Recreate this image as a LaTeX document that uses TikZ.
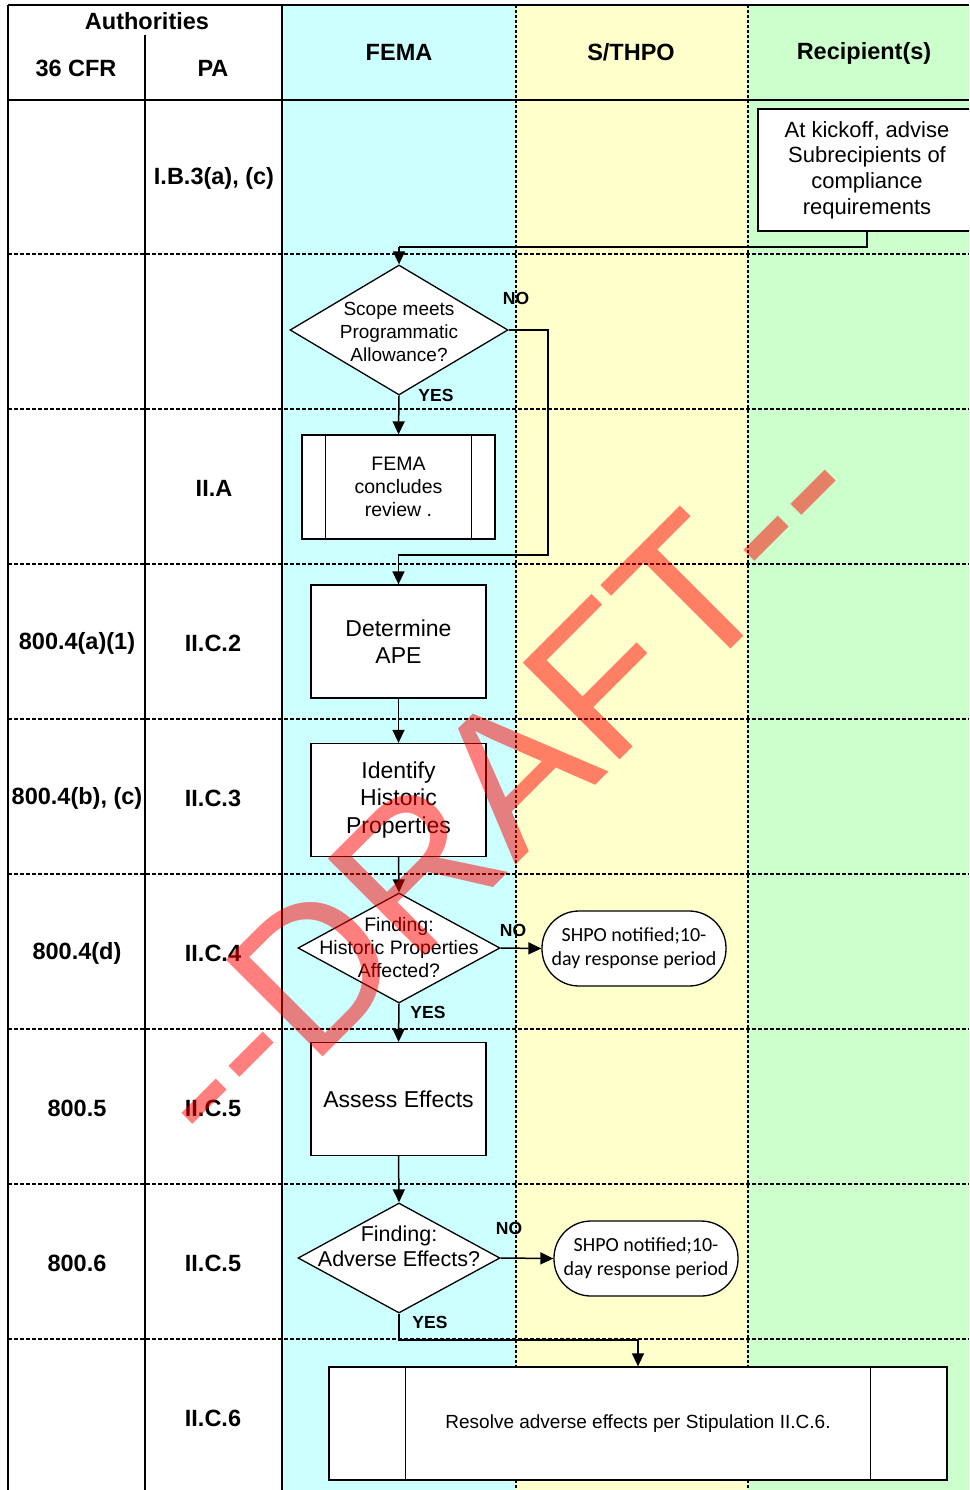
\documentclass[tikz,border=0pt]{standalone}
\usepackage{fontspec}
\setmainfont{Liberation Sans}
\newfontfamily\calibrifont{Carlito}
\usepackage{xcolor}
\usetikzlibrary{positioning,calc,shapes.geometric,arrows.meta}
\definecolor{lanecyan}{RGB}{204,255,255}
\definecolor{laneyellow}{RGB}{255,255,204}
\definecolor{lanegreen}{RGB}{204,255,204}

\begin{document}
\begin{tikzpicture}[x=1pt,y=-1pt,
					hdtext/.style={font=\bfseries\fontsize{23.5}{27}\selectfont, inner sep=0pt},
					yesno/.style={font=\bfseries\fontsize{17.5}{20}\selectfont, inner sep=0pt},
					flowbox/.style={draw, line width=1.3pt, fill=white, align=center,
						minimum width=175pt, minimum height=113pt, font=\fontsize{23}{27.5}\selectfont},
					flowdiam/.style={draw, shape=diamond, line width=1.3pt, fill=white, inner sep=0pt},
					diamtext/.style={align=center, inner sep=0pt, font=\fontsize{19}{23}\selectfont},
					flowterm/.style={draw, rectangle, rounded corners=37pt, line width=1.3pt, fill=white,
						minimum width=184pt, minimum height=75pt, align=center, inner sep=0pt,
						font=\calibrifont\fontsize{20}{24}\selectfont},
					flowedge/.style={line width=1.5pt, -{Triangle[length=13pt,width=12pt]}},
					flowline/.style={line width=1.5pt},
					rowsep/.style={line width=1.4pt, dash pattern=on 4pt off 2pt},
					lanesep/.style={line width=1.3pt, dash pattern=on 3pt off 2pt}
					]
					\useasboundingbox (0,0) rectangle (969,1490);
					\clip (0,0) rectangle (969,1490);
					
					% lanes
					\fill[lanecyan] (282,5) rectangle (516,1490);
					\fill[laneyellow] (516,5) rectangle (748,1490);
					\fill[lanegreen] (748,5) rectangle (969,1490);
					
					% row separators
					\draw[rowsep] (8,254) -- (969,254);
					\draw[rowsep] (8,409) -- (969,409);
					\draw[rowsep] (8,564) -- (969,564);
					\draw[rowsep] (8,719) -- (969,719);
					\draw[rowsep] (8,874) -- (969,874);
					\draw[rowsep] (8,1029) -- (969,1029);
					\draw[rowsep] (8,1184) -- (969,1184);
					\draw[rowsep] (8,1339) -- (969,1339);
					
					% frame and columns
					\draw[line width=2.5pt] (8,5) -- (969,5);
					\draw[line width=2.5pt] (8,5) -- (8,1490);
					\draw[line width=2.5pt] (8,100) -- (969,100);
					\draw[line width=2pt] (145,35) -- (145,1490);
					\draw[line width=2.5pt] (282,5) -- (282,1490);
					\draw[lanesep] (516,5) -- (516,1490);
					\draw[lanesep] (748,5) -- (748,1490);
					
					% header
					\node[hdtext] (auth) at (147,21) {Authorities};
					\node[hdtext] (cfrhd) at (76,68) {36 CFR};
					\node[hdtext] (pahd) at (213,68) {PA};
					\node[hdtext] (femahd) at (399,52) {FEMA};
					\node[hdtext] (shpohd) at (631,52) {S/THPO};
					\node[hdtext] (rechd) at (864,53) {Recipient(s)};
					
					% authorities per row
					\node[hdtext] (pa1) at (214,178) {I.B.3(a), (c)};
					\node[hdtext] (pa3) at (214,488) {II.A};
					\node[hdtext] (cfr4) at (77,643) {800.4(a)(1)};
					\node[hdtext] (pa4) at (213,643) {II.C.2};
					\node[hdtext] (cfr5) at (77,798) {800.4(b), (c)};
					\node[hdtext] (pa5) at (213,798) {II.C.3};
					\node[hdtext] (cfr6) at (77,953) {800.4(d)};
					\node[hdtext] (pa6) at (213,953) {II.C.4};
					\node[hdtext] (cfr7) at (77,1108) {800.5};
					\node[hdtext] (pa7) at (213,1108) {II.C.5};
					\node[hdtext] (cfr8) at (77,1263) {800.6};
					\node[hdtext] (pa8) at (213,1263) {II.C.5};
					\node[hdtext] (pa9) at (213,1418) {II.C.6};
					
					% flow
					\node[flowbox, minimum width=218pt, minimum height=122pt, font=\fontsize{22}{25.7}\selectfont]
						(kick) at (867,170) {At kickoff, advise\\Subrecipients of\\compliance\\requirements};
					\node[flowdiam, minimum width=218pt, minimum height=130pt] (q1) at (399,330) {};
					\node[diamtext] (q1txt) at (399,332) {Scope meets\\Programmatic\\Allowance?};
					\node[flowbox, minimum width=193pt, minimum height=104pt, font=\fontsize{19.5}{23}\selectfont]
						(rev) at (398.5,487) {FEMA\\concludes\\review .};
					\draw[line width=1.3pt] ([xshift=24pt]rev.north west) -- ([xshift=24pt]rev.south west);
					\draw[line width=1.3pt] ([xshift=-24pt]rev.north east) -- ([xshift=-24pt]rev.south east);
					\node[flowbox] (ape) at (398.5,641.5) {Determine\\APE};
					\node[flowbox] (ident) at (398.5,800) {Identify\\Historic\\Properties};
					\node[flowdiam, minimum width=202pt, minimum height=110pt] (q2) at (399,948) {};
					\node[diamtext, font=\fontsize{19.5}{23}\selectfont] (q2txt) at (399,948) {Finding:\\Historic Properties\\Affected?};
					\node[flowterm] (shpo1) at (634,948.5) {SHPO notified;10-\\day response period};
					\node[flowbox] (assess) at (398.5,1099) {Assess Effects};
					\node[flowdiam, minimum width=202pt, minimum height=110pt] (q3) at (399,1258) {};
					\node[diamtext, font=\fontsize{21.5}{25}\selectfont] (q3txt) at (399,1246) {Finding:\\Adverse Effects?};
					\node[flowterm] (shpo2) at (646,1258.5) {SHPO notified;10-\\day response period};
					\node[flowbox, minimum width=618pt, minimum height=113pt, font=\fontsize{19}{23}\selectfont]
						(resolve) at (638,1423.5) {Resolve adverse effects per Stipulation II.C.6.};
					\draw[line width=1.3pt] ([xshift=77pt]resolve.north west) -- ([xshift=77pt]resolve.south west);
					\draw[line width=1.3pt] ([xshift=-77pt]resolve.north east) -- ([xshift=-77pt]resolve.south east);
					
					% connectors
					\coordinate (j0) at (399,247);
					\coordinate (j1) at (548,555);
					\coordinate (j2) at (399,1340);
					\draw[flowline] (kick.south) |- (j0);
					\draw[flowedge] (j0) -- (q1.north);
					\draw[flowedge] (q1.south) -- (rev.north);
					\draw[flowedge] (q1.east) -| (j1) -| (ape.north);
					\draw[flowedge] (ape.south) -- (ident.north);
					\draw[flowedge] (ident.south) -- (q2.north);
					\draw[flowedge] (q2.east) -- (shpo1.west);
					\draw[flowedge] (q2.south) -- (assess.north);
					\draw[flowedge] (assess.south) -- (q3.north);
					\draw[flowedge] (q3.east) -- (shpo2.west);
					\draw[flowedge] (q3.south) -- (j2) -| (resolve.north);
					
					\node[yesno] (no1) at (516,298) {NO};
					\node[yesno] (yes1) at (436,395) {YES};
					\node[yesno] (no2) at (513,930) {NO};
					\node[yesno] (yes2) at (428,1012) {YES};
					\node[yesno] (no3) at (509,1228) {NO};
					\node[yesno] (yes3) at (430,1322) {YES};
					
					% watermark
					\node[rotate=45, text=red, opacity=0.5, inner sep=0pt, font=\fontsize{199}{199}\selectfont]
						(draft) at (498,786) {\mbox{-}\mbox{-}DRAFT\mbox{-}\mbox{-}};
				\end{tikzpicture}
\end{document}
